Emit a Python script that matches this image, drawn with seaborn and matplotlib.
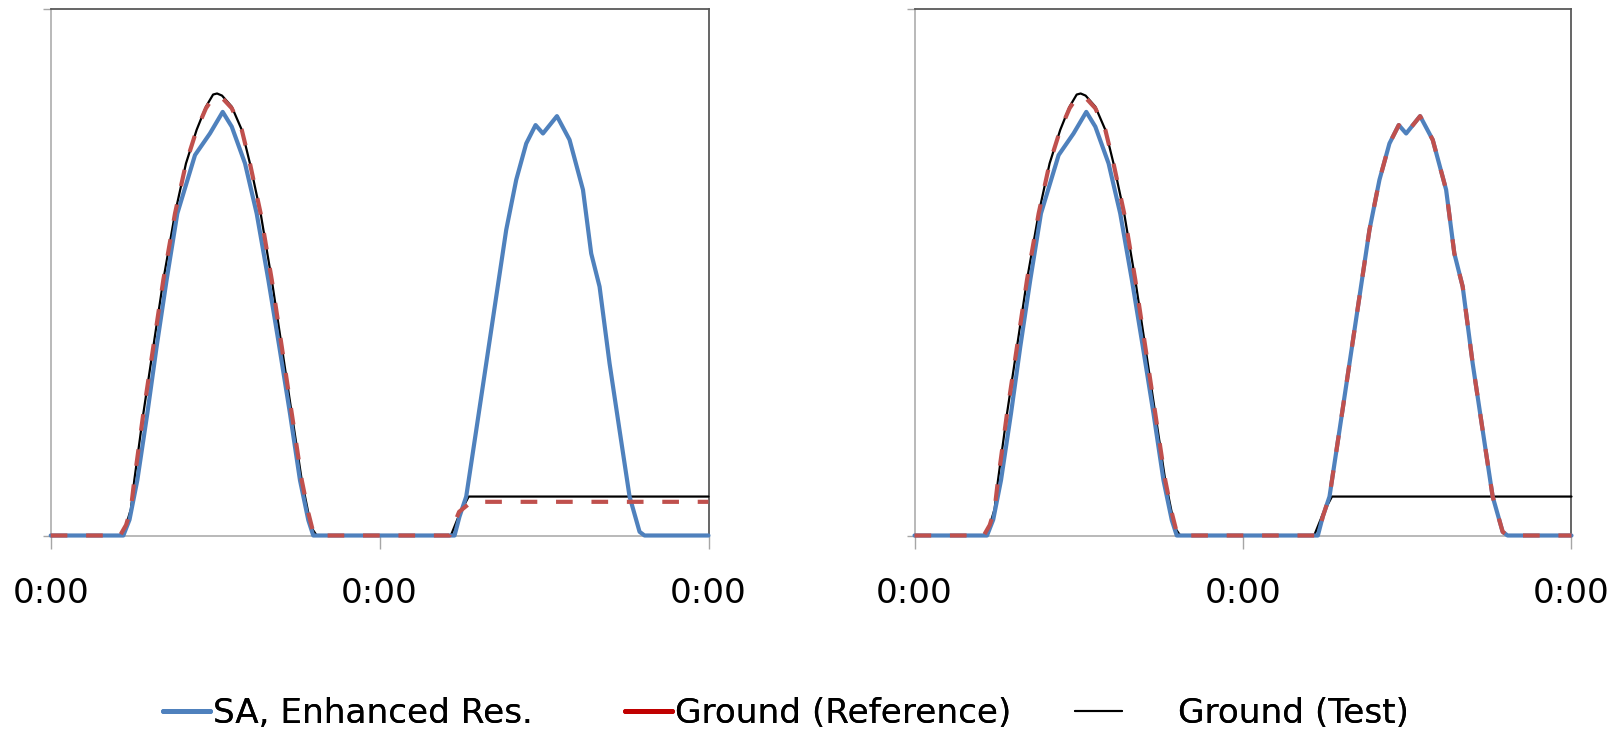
import matplotlib
matplotlib.use("Agg")
import matplotlib.pyplot as plt
from matplotlib.lines import Line2D
import seaborn as sns

# ---------------- data (hours over two days, normalised power) ----------------
x_tick_pos = [0, 24, 48]
x_tick_labels = ["0:00", "0:00", "0:00"]

# Ground (Test) - black
hours_test = [0, 5.06, 5.5, 5.85, 6.1, 6.76, 7.49, 8.22, 9.07, 9.87, 10.65, 11.33,
              11.85, 12.14, 12.5, 13.21, 13.94, 14.54, 15.32, 16.13, 16.86, 17.59,
              18.32, 18.80, 19.1, 19.41, 29.2, 29.85, 30.5, 48]
test = [0, 0, 0.02, 0.05, 0.105, 0.232, 0.359, 0.486, 0.612, 0.707, 0.771, 0.815,
        0.838, 0.840, 0.836, 0.815, 0.771, 0.707, 0.612, 0.486, 0.359, 0.232,
        0.105, 0.043, 0.012, 0, 0, 0.042, 0.074, 0.074]

# Ground (Reference) - first day (shared by both panels)
hours_ref_day1 = [0, 5.06, 5.5, 5.85, 6.1, 6.76, 7.49, 8.22, 9.07, 9.87, 10.65, 11.33,
                  11.85, 12.14, 12.5, 13.21, 13.94, 14.54, 15.32, 16.13, 16.86, 17.59,
                  18.32, 18.80, 19.1, 19.41]
ref_day1 = [0, 0, 0.02, 0.05, 0.105, 0.232, 0.359, 0.486, 0.612, 0.707, 0.771, 0.812,
            0.832, 0.835, 0.832, 0.812, 0.771, 0.707, 0.612, 0.486, 0.359, 0.232,
            0.105, 0.043, 0.012, 0]

# Ground (Reference) - second day, left panel (flat)
hours_ref_day2_left = [29.1, 29.8, 30.7, 48]
ref_day2_left = [0, 0.045, 0.064, 0.064]

# SA, Enhanced Res. - blue
hours_sa = [0, 5.30, 5.75, 6.32, 7.05, 7.73, 8.46, 9.24, 10.53, 11.62, 12.55, 13.21,
            14.18, 15.03, 15.88, 16.68, 17.46, 18.19, 18.80, 19.16,
            29.47, 29.83, 30.32, 31.05, 31.78, 32.51, 33.24, 33.97, 34.70, 35.38,
            35.92, 36.94, 37.86, 38.84, 39.44, 40.05, 40.78, 41.51, 42.24, 42.97,
            43.33, 48]
sa = [0, 0, 0.03, 0.105, 0.232, 0.359, 0.486, 0.612, 0.723, 0.764, 0.805, 0.777,
      0.707, 0.612, 0.486, 0.359, 0.232, 0.105, 0.029, 0,
      0, 0.036, 0.074, 0.200, 0.327, 0.454, 0.581, 0.676, 0.745, 0.780,
      0.764, 0.797, 0.752, 0.657, 0.536, 0.473, 0.327, 0.200, 0.074, 0.007,
      0, 0]

# Ground (Reference) right panel: day 1 as above, day 2 equal to SA day 2
day2_start = hours_sa.index(29.47)
hours_ref_right = hours_ref_day1 + hours_sa[day2_start:]
ref_right = ref_day1 + sa[day2_start:]
hours_ref_left = hours_ref_day1 + hours_ref_day2_left
ref_left = ref_day1 + ref_day2_left

labels = ["SA, Enhanced Res.", "Ground (Reference)", "Ground (Test)"]

# ---------------- style ----------------
BLUE = "#4F81BD"
RED = "#C0504D"
RED_LEG = "#C00000"
FS = 24.7

sns.set_theme(style="white")
plt.rcParams["font.family"] = ["DejaVu Sans"]
plt.rcParams["text.color"] = "black"
plt.rcParams["xtick.color"] = "black"
plt.rcParams["ytick.color"] = "black"

fig = plt.figure(figsize=(16.21, 7.39), dpi=100)
fig.patch.set_facecolor("white")
ax1 = fig.add_axes([0.03128, 0.27537, 0.4058, 0.71205])
ax2 = fig.add_axes([0.56416, 0.27537, 0.4053, 0.71205])


def draw(ax, hr, rv):
    sns.lineplot(x=hours_test, y=test, ax=ax, color="black", linewidth=1.6,
                 clip_on=False, zorder=3, legend=False,
                 solid_joinstyle="round")
    sns.lineplot(x=hours_sa, y=sa, ax=ax, color=BLUE, linewidth=3.0,
                 clip_on=False, zorder=4, legend=False,
                 solid_joinstyle="round", solid_capstyle="round")
    sns.lineplot(x=hr, y=rv, ax=ax, color=RED, linewidth=3.0,
                 clip_on=False, zorder=5, legend=False)
    ln = ax.lines[-1]
    ln.set_dashes([4, 4.5])
    ln.set_dash_capstyle("butt")
    ln.set_dash_joinstyle("round")

    ax.set_xlim(0, 48)
    ax.set_ylim(0, 1)
    ax.set_xticks(x_tick_pos)
    ax.set_xticklabels(x_tick_labels, fontsize=FS, color="black")
    ax.set_yticks([0, 1])
    ax.set_yticklabels([])
    ax.set_xlabel("")
    ax.set_ylabel("")
    ax.tick_params(axis="x", direction="out", length=9.4, width=1.0,
                   color="#A6A6A6", labelcolor="black", pad=20.5, bottom=True)
    ax.tick_params(axis="y", direction="out", length=5.8, width=1.0,
                   color="#A6A6A6", left=True)
    for side in ["left", "bottom"]:
        ax.spines[side].set_color("#A6A6A6")
        ax.spines[side].set_linewidth(1.1)
    for side in ["top", "right"]:
        ax.spines[side].set_color("#595959")
        ax.spines[side].set_linewidth(1.3)
    for s in ax.spines.values():
        s.set_visible(True)
        s.set_zorder(2)


draw(ax1, hours_ref_left, ref_left)
draw(ax2, hours_ref_right, ref_right)

# ---------------- legend (three entries placed like the original) ----------------
handles = [Line2D([], [], color=BLUE, linewidth=3.6),
           Line2D([], [], color=RED_LEG, linewidth=3.6),
           Line2D([], [], color="black", linewidth=1.5)]
leg_x = [0.1006, 0.3856, 0.6632]
leg_pad = [0.09, 0.09, 1.63]
for h, lab, lx, lp in zip(handles, labels, leg_x, leg_pad):
    lg = fig.legend([h], [lab], loc="center left", bbox_to_anchor=(lx, 0.035),
                    frameon=False, fontsize=FS, handlelength=1.37,
                    handletextpad=lp, borderpad=0, borderaxespad=0,
                    labelcolor="black")
    fig.add_artist(lg)

fig.savefig("out.png", dpi=100, facecolor="white")
